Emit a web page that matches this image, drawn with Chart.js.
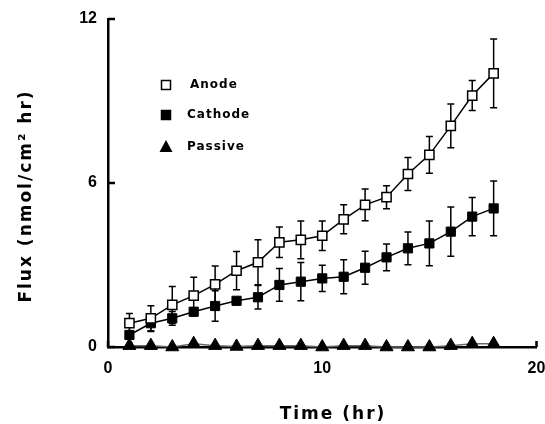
<!DOCTYPE html>
<html>
<head>
<meta charset="utf-8">
<script src="https://cdn.jsdelivr.net/npm/chart.js@4.4.1/dist/chart.umd.min.js"></script>
<style>
  html, body { margin: 0; padding: 0; background: #fff; }
</style>
</head>
<body>
<canvas id="grafico" width="545" height="424"></canvas>
<script>
// Datos
const horas = [1, 2, 3, 4, 5, 6, 7, 8, 9, 10, 11, 12, 13, 14, 15, 16, 17, 18];

const fluxAnodo = [0.87, 1.05, 1.54, 1.88, 2.29, 2.79, 3.10, 3.83, 3.92, 4.07, 4.67, 5.20, 5.48, 6.33, 7.03, 8.09, 9.20, 10.01];
const errAnodo  = [0.36, 0.46, 0.67, 0.67, 0.67, 0.70, 0.82, 0.56, 0.69, 0.54, 0.53, 0.58, 0.42, 0.60, 0.67, 0.80, 0.55, 1.26];

const fluxCatodo = [0.44, 0.87, 1.05, 1.29, 1.50, 1.69, 1.82, 2.27, 2.39, 2.51, 2.57, 2.90, 3.28, 3.61, 3.79, 4.22, 4.77, 5.07];
const errCatodo  = [0.30, 0.30, 0.25, 0.15, 0.56, 0.10, 0.43, 0.60, 0.70, 0.48, 0.62, 0.60, 0.49, 0.60, 0.82, 0.90, 0.70, 1.00];

const fluxPasivo = [0.05, 0.05, 0.00, 0.12, 0.05, 0.02, 0.05, 0.05, 0.05, 0.00, 0.05, 0.05, 0.00, 0.00, 0.00, 0.05, 0.12, 0.12];

const etiquetas = ["Anode", "Cathode", "Passive"];
const ticksX = [0, 10, 20];
const ticksY = [0, 6, 12];
const tituloX = "Time (hr)";
const tituloY = "Flux (nmol/cm\u00B2 hr)";

function puntos(valores) {
  return horas.map((h, i) => ({ x: h, y: valores[i] }));
}

// Barras de error (detrás de los marcadores)
const pluginErrores = {
  id: "errores",
  beforeDatasetsDraw(chart) {
    const ctx = chart.ctx;
    const sx = chart.scales.x;
    const sy = chart.scales.y;
    ctx.save();
    ctx.strokeStyle = "#000";
    ctx.lineWidth = 1.5;
    chart.data.datasets.forEach(ds => {
      if (!ds.errores) return;
      ds.data.forEach((p, i) => {
        const e = ds.errores[i];
        if (!e) return;
        const x = sx.getPixelForValue(p.x);
        const y1 = sy.getPixelForValue(p.y + e);
        const y2 = sy.getPixelForValue(Math.max(0, p.y - e));
        ctx.beginPath();
        ctx.moveTo(x, y1); ctx.lineTo(x, y2);
        ctx.moveTo(x - 3.5, y1); ctx.lineTo(x + 3.5, y1);
        ctx.moveTo(x - 3.5, y2); ctx.lineTo(x + 3.5, y2);
        ctx.stroke();
      });
    });
    ctx.restore();
  }
};

// Marcas hacia dentro, títulos y leyenda
const pluginEjes = {
  id: "ejes",
  afterDraw(chart) {
    const ctx = chart.ctx;
    const sx = chart.scales.x;
    const sy = chart.scales.y;
    const area = chart.chartArea;
    ctx.save();
    ctx.strokeStyle = "#000";
    ctx.lineWidth = 2.5;
    ctx.beginPath();
    ticksY.forEach(v => {
      const y = sy.getPixelForValue(v);
      ctx.moveTo(area.left, y); ctx.lineTo(area.left + 7, y);
    });
    ticksX.forEach(v => {
      const x = sx.getPixelForValue(v);
      ctx.moveTo(x, area.bottom); ctx.lineTo(x, area.bottom - 6);
    });
    ctx.stroke();

    // Títulos de los ejes
    ctx.fillStyle = "#000";
    ctx.font = "bold 17px 'DejaVu Sans'";
    ctx.letterSpacing = "2px";
    ctx.textAlign = "center";
    ctx.textBaseline = "middle";
    ctx.fillText(tituloX, 333, 415);
    ctx.translate(27, 196);
    ctx.rotate(-Math.PI / 2);
    ctx.fillText(tituloY, 0, 0);
    ctx.restore();

    // Leyenda
    ctx.save();
    const filas = [85, 115, 147];
    ctx.font = "bold 12px 'DejaVu Sans'";
    ctx.letterSpacing = "1px";
    ctx.textAlign = "left";
    ctx.textBaseline = "middle";
    chart.data.datasets.forEach((ds, i) => {
      const y = filas[i];
      const x = 166;
      ctx.lineWidth = 1.5;
      ctx.strokeStyle = "#000";
      ctx.fillStyle = ds.pointBackgroundColor;
      if (ds.pointStyle === "rect") {
        ctx.fillRect(x - 4.5, y - 4.5, 9, 9);
        ctx.strokeRect(x - 4.5, y - 4.5, 9, 9);
      } else {
        ctx.beginPath();
        ctx.moveTo(x, y - 7);
        ctx.lineTo(x + 6.5, y + 5);
        ctx.lineTo(x - 6.5, y + 5);
        ctx.closePath();
        ctx.fill();
      }
      ctx.fillStyle = "#000";
      ctx.fillText(ds.label, i === 0 ? 190 : 187, y);
    });
    ctx.restore();
  }
};

const ctx = document.getElementById("grafico").getContext("2d");

new Chart(ctx, {
  type: "scatter",
  data: {
    datasets: [
      {
        label: etiquetas[0],
        data: puntos(fluxAnodo),
        errores: errAnodo,
        showLine: true,
        borderColor: "#000",
        borderWidth: 1.5,
        pointStyle: "rect",
        pointRadius: 6.5,
        pointBackgroundColor: "#fff",
        pointBorderColor: "#000",
        pointBorderWidth: 1.5
      },
      {
        label: etiquetas[1],
        data: puntos(fluxCatodo),
        errores: errCatodo,
        showLine: true,
        borderColor: "#000",
        borderWidth: 1.5,
        pointStyle: "rect",
        pointRadius: 6.5,
        pointBackgroundColor: "#000",
        pointBorderColor: "#000",
        pointBorderWidth: 1
      },
      {
        label: etiquetas[2],
        data: puntos(fluxPasivo),
        showLine: true,
        borderColor: "#666",
        borderWidth: 1.5,
        pointStyle: "triangle",
        pointRadius: 7.5,
        pointBackgroundColor: "#000",
        pointBorderColor: "#000",
        pointBorderWidth: 1
      }
    ]
  },
  options: {
    responsive: false,
    animation: false,
    clip: false,
    layout: {
      padding: { left: 0, right: 8, top: 19, bottom: 0 }
    },
    plugins: {
      legend: { display: false },
      tooltip: { enabled: false }
    },
    scales: {
      x: {
        type: "linear",
        min: 0,
        max: 20,
        afterBuildTicks: scale => { scale.ticks = ticksX.map(v => ({ value: v })); },
        grid: { display: false, drawTicks: false },
        border: { display: true, color: "#000", width: 2.5 },
        ticks: {
          color: "#000",
          padding: 12,
          maxRotation: 0,
          font: { family: "'Liberation Sans'", weight: "bold", size: 16 }
        },
        afterFit: scale => {
          scale.height = 77;
          scale.paddingLeft = 0;
          scale.paddingRight = 0;
        }
      },
      y: {
        type: "linear",
        min: 0,
        max: 12,
        afterBuildTicks: scale => { scale.ticks = ticksY.map(v => ({ value: v })); },
        grid: { display: false, drawTicks: false },
        border: { display: true, color: "#000", width: 2.5 },
        ticks: {
          color: "#000",
          padding: 11,
          font: { family: "'Liberation Sans'", weight: "bold", size: 16 }
        },
        afterFit: scale => {
          scale.width = 108;
          scale.paddingTop = 0;
          scale.paddingBottom = 0;
        }
      }
    }
  },
  plugins: [pluginErrores, pluginEjes]
});
</script>
</body>
</html>
